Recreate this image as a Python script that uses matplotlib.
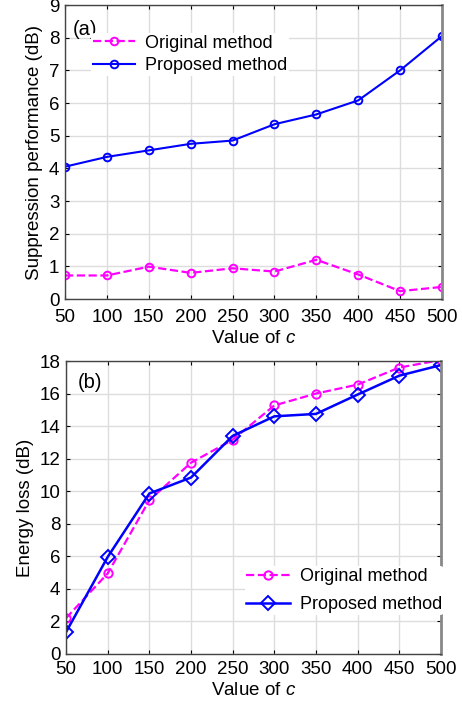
import matplotlib.pyplot as plt

plt.rcParams['font.family'] = ['Liberation Sans', 'DejaVu Sans']
plt.rcParams['mathtext.fontset'] = 'custom'
plt.rcParams['mathtext.it'] = 'Liberation Sans:italic'

c_values = [50, 100, 150, 200, 250, 300, 350, 400, 450, 500]

# (a) suppression performance in dB
supp_original = [0.72, 0.72, 0.99, 0.80, 0.94, 0.84, 1.20, 0.75, 0.24, 0.37]
supp_proposed = [4.05, 4.35, 4.55, 4.75, 4.85, 5.35, 5.65, 6.08, 7.00, 8.05]

# (b) energy loss in dB
loss_original = [2.20, 4.95, 9.45, 11.75, 13.16, 15.27, 16.00, 16.55, 17.60, 18.06]
loss_proposed = [1.34, 5.96, 9.86, 10.84, 13.40, 14.60, 14.75, 15.94, 17.10, 17.75]

MAGENTA = '#ff00ff'
BLUE = '#0000ff'
FS = 13.5

fig = plt.figure(figsize=(4.62, 7.01), dpi=100)
ax1 = fig.add_axes([65 / 462, 1 - 299 / 701, 377 / 462, 294 / 701])
ax2 = fig.add_axes([66 / 462, 1 - 654 / 701, 375 / 462, 293 / 701])


def style_axes(ax, xpad, labelpad):
    ax.set_xlim(50, 500)
    ax.set_xticks(c_values)
    ax.grid(True, color='#dddddd', linewidth=1.0)
    ax.set_axisbelow(True)
    ax.tick_params(direction='in', length=3, labelsize=FS, width=0.8,
                   right=True, top=True, pad=4)
    ax.tick_params(axis='x', pad=xpad)
    for s in ax.spines.values():
        s.set_color('#444444')
        s.set_linewidth(1.0)
    ax.spines['right'].set_color('#888888')
    ax.spines['right'].set_linewidth(2.0)
    ax.set_xlabel('Value of $\\it{c}$', fontsize=FS, labelpad=labelpad)


# panel (a)
ax1.plot(c_values, supp_original, '--', color=MAGENTA, lw=1.6, marker='o',
         ms=5.5, mfc='none', mew=1.4, label='Original method')
ax1.plot(c_values, supp_proposed, '-', color=BLUE, lw=1.5, marker='o',
         ms=5.5, mfc='none', mew=1.4, label='Proposed method')
style_axes(ax1, xpad=7, labelpad=3)
ax1.set_ylim(0, 9)
ax1.set_yticks(range(0, 10))
ax1.set_ylabel('Suppression performance (dB)', fontsize=FS, labelpad=4)
ax1.text(0.02, 0.915, '(a)', transform=ax1.transAxes, fontsize=FS + 1,
         va='center', ha='left')
leg1 = ax1.legend(loc='upper left', bbox_to_anchor=(0.07, 0.905),
                  fontsize=FS - 0.5, frameon=True, framealpha=1,
                  edgecolor='none', handlelength=2.3, handletextpad=0.55,
                  labelspacing=0.31, borderpad=0.1, borderaxespad=0)

# panel (b)
ax2.plot(c_values, loss_original, '--', color=MAGENTA, lw=1.6, marker='o',
         ms=6, mfc='none', mew=1.4, label='Original method')
ax2.plot(c_values, loss_proposed, '-', color=BLUE, lw=1.8, marker='D',
         ms=7.5, mfc='none', mew=1.4, label='Proposed method')
style_axes(ax2, xpad=5, labelpad=3)
ax2.set_ylim(0, 18)
ax2.set_yticks(range(0, 19, 2))
ax2.set_ylabel('Energy loss (dB)', fontsize=FS, labelpad=4)
ax2.text(0.032, 0.925, '(b)', transform=ax2.transAxes, fontsize=FS + 1,
         va='center', ha='left')
leg2 = ax2.legend(loc='center left', bbox_to_anchor=(0.476, 0.217),
                  fontsize=FS - 0.5, frameon=True, framealpha=1,
                  edgecolor='none', handlelength=2.4, handletextpad=0.55,
                  labelspacing=0.62, borderpad=0.1, borderaxespad=0)

fig.savefig('out.png', dpi=100)
